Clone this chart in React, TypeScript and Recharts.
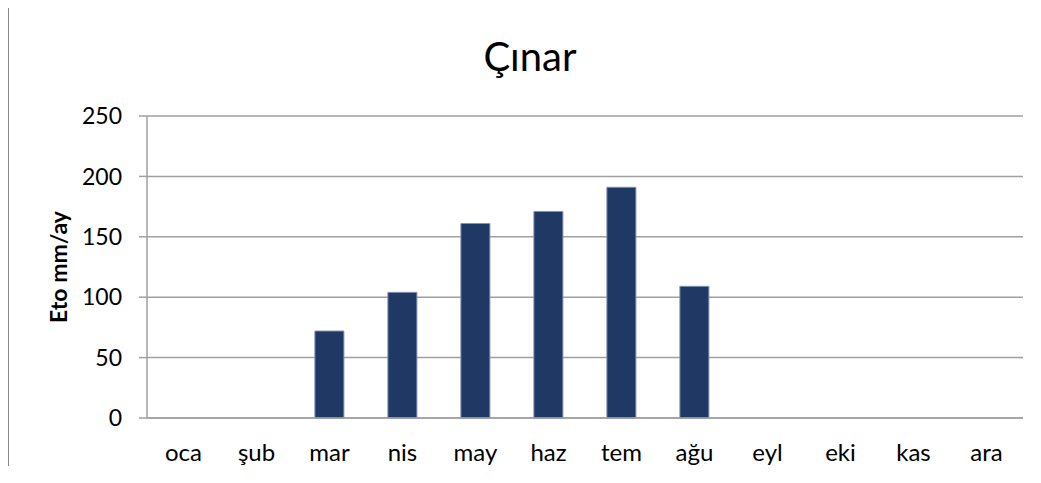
import { Bar, BarChart, CartesianGrid, Label, XAxis, YAxis } from 'recharts';

const months = ['oca', 'şub', 'mar', 'nis', 'may', 'haz', 'tem', 'ağu', 'eyl', 'eki', 'kas', 'ara'];
const eto = [null, null, 72, 104, 161, 171, 191, 109, null, null, null, null];
const yTicks = [0, 50, 100, 150, 200, 250];

const chartData = months.map((m, i) => ({ month: m, eto: eto[i] }));

const font = 'Lato, "Open Sans", sans-serif';

function YTitle({ viewBox }: any) {
    const cx = 58;
    const cy = viewBox.y + viewBox.height / 2;
    return (
        <text x={cx} y={cy} transform={`rotate(-90, ${cx}, ${cy})`} textAnchor="middle" dominantBaseline="central"
              fontFamily={font} fontWeight="bold" fontSize={23} fill="#000">
            Eto mm/ay
        </text>
    );
}

export default function App() {
    return (
        <div style={{ position: 'relative', width: 1041, height: 483, margin: -8, background: '#fff', overflow: 'hidden' }}>
            <div style={{ position: 'absolute', left: 0, top: 0 }}>
                <BarChart width={1041} height={483} data={chartData} barCategoryGap="30%"
                          margin={{ top: 116, right: 18, bottom: 35, left: 0 }}>
                    <CartesianGrid vertical={false} stroke="#a0a0a0" strokeWidth={1.5} />
                    <XAxis dataKey="month" axisLine={{ stroke: '#a0a0a0', strokeWidth: 1.5 }} tickLine={false}
                           tickMargin={20} tick={{ fill: '#000', fontSize: 24, fontFamily: font }} interval={0} />
                    <YAxis width={147} domain={[0, 250]} ticks={yTicks} tickSize={8} tickMargin={17}
                           axisLine={{ stroke: '#a0a0a0', strokeWidth: 1.5 }} tickLine={{ stroke: '#a0a0a0', strokeWidth: 1.5 }}
                           tick={{ fill: '#000', fontSize: 23, fontFamily: font }}>
                        <Label content={YTitle} />
                    </YAxis>
                    <Bar dataKey="eto" fill="#203864" stroke="#8392b0" strokeWidth={1} isAnimationActive={false} />
                </BarChart>
            </div>
            <div style={{ position: 'absolute', left: 330, width: 400, top: 36, textAlign: 'center',
                    fontFamily: font, fontSize: 40, lineHeight: '40px', color: '#000', pointerEvents: 'none' }}>
                Çınar
            </div>
            <div style={{ position: 'absolute', left: 7, top: 4, width: 1100, height: 462, zIndex: 5, pointerEvents: 'none',
                    boxSizing: 'border-box', borderTop: '2px solid #8a8a8a', borderLeft: '2px solid #8a8a8a' }} />
        </div>
    );
}
